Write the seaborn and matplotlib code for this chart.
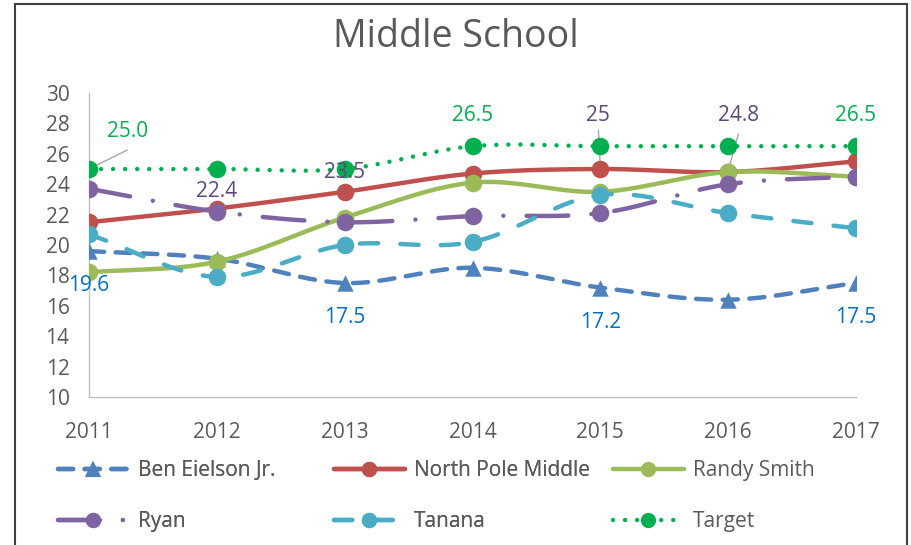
import numpy as np
import pandas as pd
import matplotlib
matplotlib.use("Agg")
import matplotlib.pyplot as plt
from matplotlib.lines import Line2D
from matplotlib.patches import Rectangle
import seaborn as sns

# data
years = [2011, 2012, 2013, 2014, 2015, 2016, 2017]
ben_eielson = [19.6, 19.1, 17.5, 18.5, 17.2, 16.4, 17.5]
north_pole = [21.5, 22.4, 23.5, 24.7, 25.0, 24.8, 25.5]
randy_smith = [18.2, 18.9, 21.8, 24.1, 23.5, 24.8, 24.5]
ryan = [23.7, 22.2, 21.5, 21.9, 22.1, 24.0, 24.5]
tanana = [20.7, 17.9, 20.0, 20.2, 23.3, 22.1, 21.1]
target = [25.0, 25.0, 25.0, 26.5, 26.5, 26.5, 26.5]

series_names = ["Ben Eielson Jr.", "North Pole Middle", "Randy Smith",
                "Ryan", "Tanana", "Target"]
series_values = [ben_eielson, north_pole, randy_smith, ryan, tanana, target]

# data labels shown on the chart: (text, year, y position, colour key)
label_texts = ["25.0", "22.4", "23.5", "26.5", "25", "24.8", "26.5",
               "19.6", "17.5", "17.2", "17.5"]
label_years = [2011.3, 2012.0, 2013.0, 2014.0, 2014.98, 2016.08, 2017.0,
               2011.0, 2013.0, 2015.0, 2017.0]
label_y = [27.45, 23.5, 24.8, 28.5, 28.5, 28.5, 28.5,
           17.35, 15.2, 14.9, 15.2]
label_kind = ["g", "p", "p", "g", "p", "p", "g", "b", "b", "b", "b"]

colors = ["#4F81BD", "#C0504D", "#9BBB59", "#8064A2", "#4BACC6", "#00B050"]
markers = ["^", "o", "o", "o", "o", "o"]
dashes = [(3.4, 2.6), None, None, (9.4, 5.2, 0.01, 5.2), (4.1, 5.0), (0.01, 2.7)]
label_colors = {"g": "#00B050", "p": "#5F497A", "b": "#0070C0"}

sns.set_theme(style="white")
plt.rcParams["font.family"] = ["Open Sans", "DejaVu Sans"]
text_grey = "#595959"
axis_grey = "#BFBFBF"


def smooth(x, y, n=40):
    """Catmull-Rom style smoothing like Excel's smoothed line."""
    x = np.asarray(x, float)
    y = np.asarray(y, float)
    px = np.concatenate([[2 * x[0] - x[1]], x, [2 * x[-1] - x[-2]]])
    py = np.concatenate([[2 * y[0] - y[1]], y, [2 * y[-1] - y[-2]]])
    xs, ys = [], []
    t = np.linspace(0, 1, n)
    for i in range(1, len(px) - 2):
        c1x = px[i] + (px[i + 1] - px[i - 1]) / 6
        c1y = py[i] + (py[i + 1] - py[i - 1]) / 6
        c2x = px[i + 1] - (px[i + 2] - px[i]) / 6
        c2y = py[i + 1] - (py[i + 2] - py[i]) / 6
        b0, b1, b2, b3 = (1 - t) ** 3, 3 * t * (1 - t) ** 2, 3 * t ** 2 * (1 - t), t ** 3
        xs.append(b0 * px[i] + b1 * c1x + b2 * c2x + b3 * px[i + 1])
        ys.append(b0 * py[i] + b1 * c1y + b2 * c2y + b3 * py[i + 1])
    return np.concatenate(xs), np.concatenate(ys)


fig = plt.figure(figsize=(9.12, 5.45), dpi=100)
ax = fig.add_axes([89 / 912, 1 - 397 / 545, (856 - 89) / 912, (397 - 93) / 545])

lw = 3.2
handles = []
for name, vals, col, mk, ds in zip(series_names, series_values, colors, markers, dashes):
    sx, sy = smooth(years, vals)
    style = dict(color=col, lw=lw, solid_capstyle="round", dash_capstyle="round")
    if ds is not None:
        style["dashes"] = ds
    ax.plot(sx, sy, **style, zorder=2)
    df = pd.DataFrame({"year": years, "value": vals})
    ms = 160 if mk == "o" else 140
    sns.scatterplot(data=df, x="year", y="value", ax=ax, color=col, marker=mk,
                    s=ms, linewidth=0, zorder=3)
    handles.append(Line2D([], [], marker=mk, markersize=11, markeredgewidth=0, **style))

# data labels
for txt, xx, yy, k in zip(label_texts, label_years, label_y, label_kind):
    ax.text(xx, yy, txt, color=label_colors[k], fontsize=15, ha="center", va="center")

# leader lines
ax.plot([2011.0, 2011.3], [25.0, 26.25], color="#A6A6A6", lw=1)
ax.plot([2014.985, 2015.0], [27.55, 25.1], color="#A6A6A6", lw=1)
ax.plot([2016.08, 2016.0], [27.3, 24.9], color="#A6A6A6", lw=1)

ax.set_xlim(2011, 2017)
ax.set_ylim(10, 30)
ax.set_xticks(years)
ax.set_yticks(range(10, 31, 2))
ax.set_xlabel("")
ax.set_ylabel("")
ax.tick_params(axis="both", colors=axis_grey, labelcolor=text_grey, labelsize=15,
               length=5, width=1, direction="out")
ax.tick_params(axis="x", pad=13)
ax.tick_params(axis="y", pad=9)
for side in ["top", "right"]:
    ax.spines[side].set_visible(False)
for side in ["left", "bottom"]:
    ax.spines[side].set_color(axis_grey)
    ax.spines[side].set_linewidth(1)
ax.grid(False)
for lab in ax.get_xticklabels() + ax.get_yticklabels():
    lab.set_clip_on(False)

fig.text(0.5, 1 - 37 / 545, "Middle School", ha="center", va="center",
         fontsize=27, color=text_grey)

# legend: three columns of two entries
col_x = [58 / 912, 334 / 912, 613 / 912]
for c in range(3):
    idx = [c, c + 3]
    leg = fig.legend([handles[i] for i in idx], [series_names[i] for i in idx],
                     loc="upper left", bbox_to_anchor=(col_x[c], 1 - 460 / 545),
                     frameon=False, fontsize=15, handlelength=3.4,
                     handletextpad=0.45, labelspacing=1.45, borderaxespad=0,
                     borderpad=0, labelcolor=text_grey)
    if c < 2:
        fig.add_artist(leg)

# chart frame
fig.patches.append(Rectangle((15 / 912, -0.05), (907 - 15) / 912, 1.05 - 4 / 545,
                             transform=fig.transFigure, fill=False,
                             edgecolor="#404040", lw=1.5))

fig.savefig("out.png", dpi=100)
